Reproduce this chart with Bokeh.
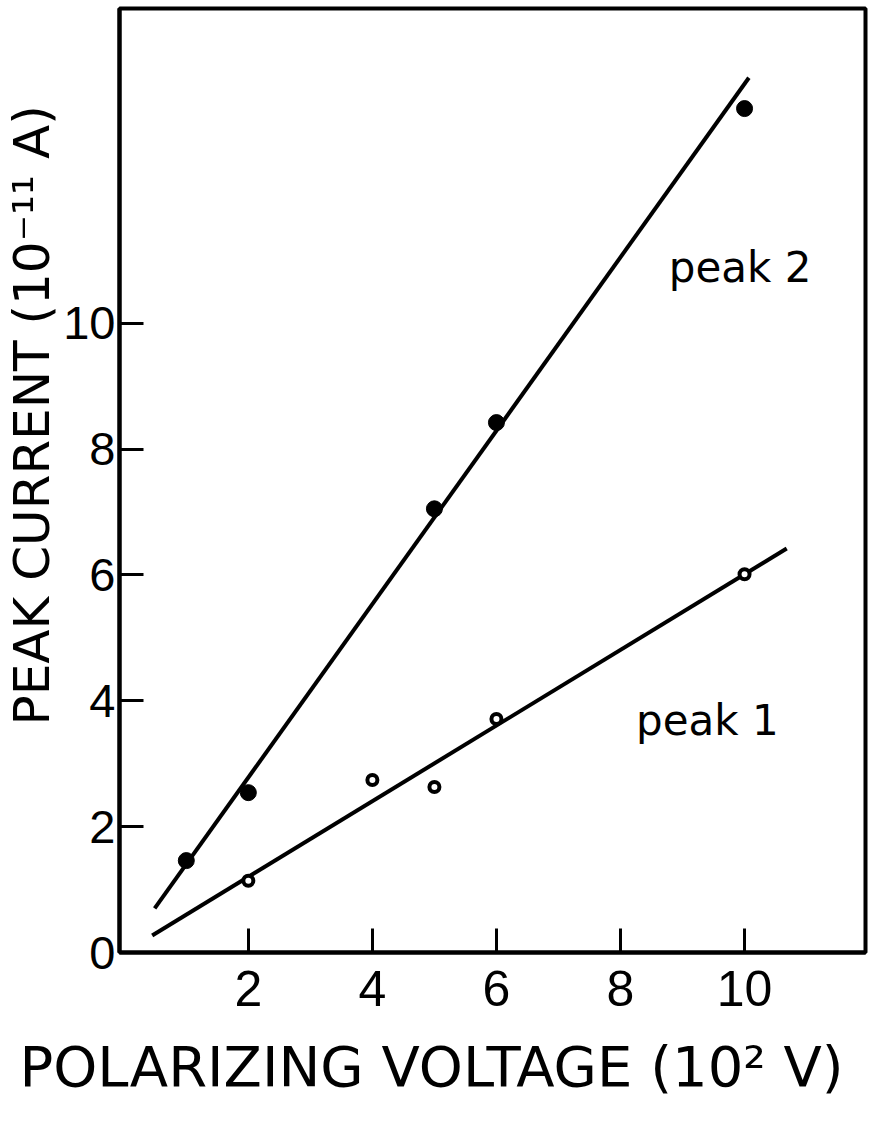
from bokeh.plotting import figure
from bokeh.models import Range1d, FixedTicker, Label, Title
from bokeh.embed import file_html
from bokeh.resources import INLINE

# ---- data ----
peak2_x = [1, 2, 5, 6, 10]
peak2_y = [1.46, 2.54, 7.05, 8.42, 13.41]

peak1_x = [2, 4, 5, 6, 10]
peak1_y = [1.14, 2.74, 2.63, 3.71, 6.01]

# fitted straight lines (end points as drawn)
peak2_fit_x = [0.49, 10.07]
peak2_fit_y = [0.70, 13.90]
peak1_fit_x = [0.45, 10.68]
peak1_fit_y = [0.27, 6.42]

x_ticks = [2, 4, 6, 8, 10]
x_tick_labels = {2: "2", 4: "4", 6: "6", 8: "8", 10: "10"}
y_ticks = [0, 2, 4, 6, 8, 10]

x_title = "POLARIZING VOLTAGE (10\u00b2 V)"
y_title = "PEAK CURRENT (10\u207b\u00b9\u00b9 A)"
label_peak2 = "peak 2"
label_peak1 = "peak 1"

FONT = "DejaVu Sans"
TICK_FONT = "Liberation Sans"

p = figure(width=889, height=1127, output_backend="svg", toolbar_location=None,
           x_range=Range1d(-0.077, 11.95), y_range=Range1d(0, 15.0),
           min_border_left=118, min_border_right=24, min_border_top=8,
           min_border_bottom=175)

p.background_fill_color = "white"
p.border_fill_color = "white"
p.outline_line_color = "black"
p.outline_line_width = 4
p.xgrid.visible = False
p.ygrid.visible = False

for ax in (p.xaxis[0], p.yaxis[0]):
    ax.axis_line_width = 4
    ax.axis_line_color = "black"
    ax.major_tick_in = 24
    ax.major_tick_out = 0
    ax.major_tick_line_width = 3
    ax.minor_tick_line_color = None
    ax.major_label_text_font = TICK_FONT
    ax.major_label_text_color = "black"

p.xaxis.ticker = FixedTicker(ticks=x_ticks)
p.xaxis.major_label_overrides = x_tick_labels
p.xaxis.major_label_text_font_size = "50px"
p.xaxis.major_label_standoff = 18

p.yaxis.ticker = FixedTicker(ticks=y_ticks)
p.yaxis.major_label_text_font_size = "47px"
p.yaxis.major_label_standoff = 4

# fitted lines
p.line(peak2_fit_x, peak2_fit_y, line_color="black", line_width=4)
p.line(peak1_fit_x, peak1_fit_y, line_color="black", line_width=4)

# data points
p.scatter(peak2_x, peak2_y, marker="circle", size=16, fill_color="black", line_color="black")
p.scatter(peak1_x, peak1_y, marker="circle", size=10, fill_color="white",
          line_color="black", line_width=4)

# in-plot labels
p.add_layout(Label(x=8.78, y=10.88, text=label_peak2, text_font=FONT,
                   text_font_size="42px", text_color="black",
                   text_baseline="alphabetic", text_align="left"))
p.add_layout(Label(x=8.25, y=3.68, text=label_peak1, text_font=FONT,
                   text_font_size="42px", text_color="black",
                   text_baseline="alphabetic", text_align="left"))

# axis titles, shifted like the original
p.add_layout(Title(text=x_title, text_font=FONT, text_font_size="56px",
                   text_font_style="normal", text_color="black",
                   align="left", offset=-100, vertical_align="top",
                   standoff=50), "below")
p.add_layout(Title(text=y_title, text_font=FONT, text_font_size="50px",
                   text_font_style="normal", text_color="black",
                   align="left", offset=227, standoff=0), "left")

open("out.html", "w").write(file_html(p, INLINE))
